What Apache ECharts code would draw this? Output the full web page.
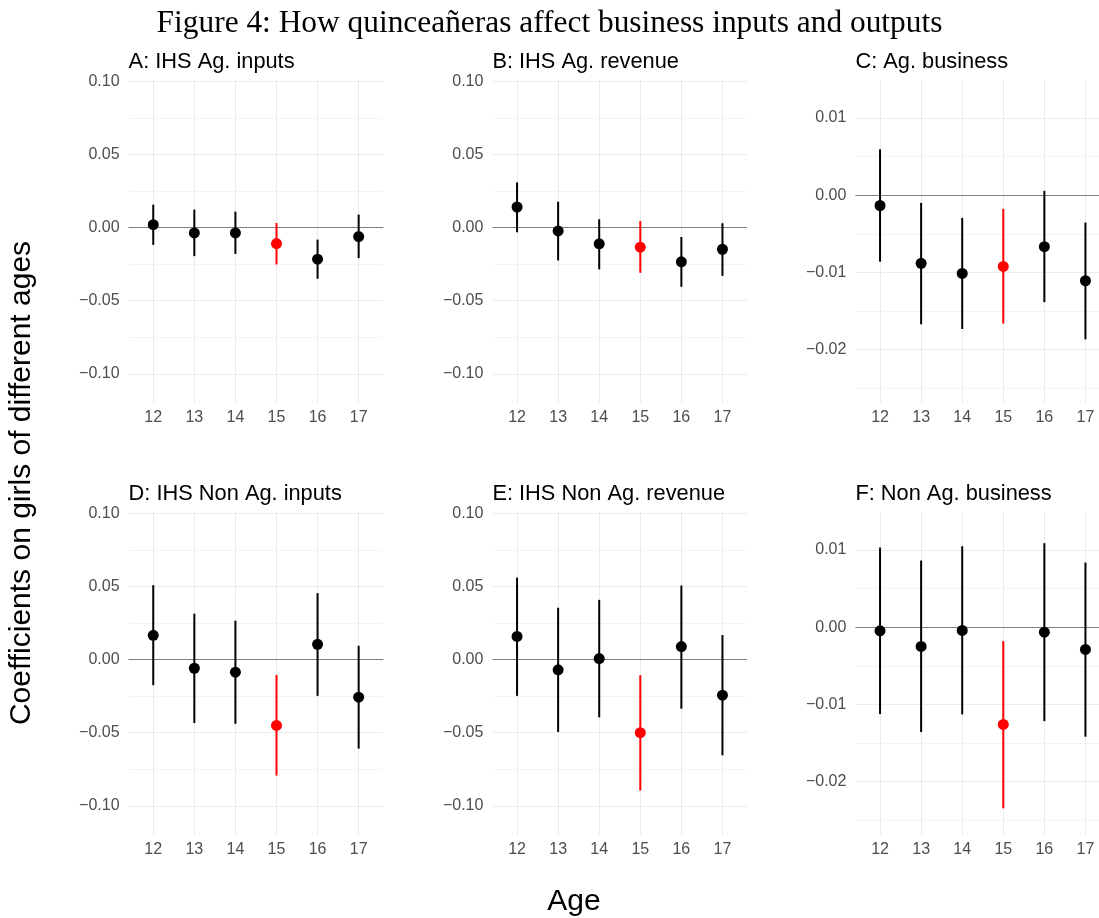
<!DOCTYPE html>
<html>
<head>
<meta charset="utf-8">
<script src="https://cdn.jsdelivr.net/npm/echarts@6/dist/echarts.min.js"></script>
<style>
html,body{margin:0;padding:0;background:#fff;}
#chart{width:1099px;height:918px;}
</style>
</head>
<body>
<div id="chart"></div>
<script>
// ---- Data ----
const ages = [12, 13, 14, 15, 16, 17];
const focusAge = 15;

const titles = [
  "A: IHS Ag. inputs", "B: IHS Ag. revenue", "C: Ag. business",
  "D: IHS Non Ag. inputs", "E: IHS Non Ag. revenue", "F: Non Ag. business"
];

const aEst = [0.0020, -0.0036, -0.0036, -0.0109, -0.0216, -0.0061];
const aLo  = [-0.0118, -0.0195, -0.0180, -0.0252, -0.0350, -0.0209];
const aHi  = [0.0157, 0.0123, 0.0109, 0.0032, -0.0082, 0.0089];

const bEst = [0.0141, -0.0023, -0.0111, -0.0134, -0.0234, -0.0148];
const bLo  = [-0.0032, -0.0225, -0.0286, -0.0309, -0.0405, -0.0330];
const bHi  = [0.0309, 0.0177, 0.0057, 0.0045, -0.0064, 0.0030];

const cEst = [-0.00134, -0.00883, -0.01013, -0.00922, -0.00667, -0.01108];
const cLo  = [-0.00861, -0.01671, -0.01732, -0.01662, -0.01385, -0.01866];
const cHi  = [0.00593, -0.00100, -0.00294, -0.00177, 0.00056, -0.00355];

const dEst = [0.0166, -0.0059, -0.0086, -0.0450, 0.0105, -0.0257];
const dLo  = [-0.0175, -0.0434, -0.0439, -0.0793, -0.0248, -0.0609];
const dHi  = [0.0509, 0.0314, 0.0266, -0.0105, 0.0455, 0.0095];

const eEst = [0.0159, -0.0070, 0.0007, -0.0500, 0.0089, -0.0243];
const eLo  = [-0.0248, -0.0495, -0.0395, -0.0895, -0.0336, -0.0655];
const eHi  = [0.0561, 0.0355, 0.0409, -0.0107, 0.0507, 0.0168];

const fEst = [-0.00047, -0.00250, -0.00043, -0.01259, -0.00065, -0.00289];
const fLo  = [-0.01125, -0.01358, -0.01129, -0.02345, -0.01216, -0.01418];
const fHi  = [0.01030, 0.00862, 0.01047, -0.00181, 0.01086, 0.00836];

// tick labels
const wideMajor = [-0.10, -0.05, 0.00, 0.05, 0.10];
const wideAll   = [-0.10, -0.075, -0.05, -0.025, 0.00, 0.025, 0.05, 0.075, 0.10];
const narrowMajor = [-0.02, -0.01, 0.00, 0.01];
const narrowAll   = [-0.025, -0.02, -0.015, -0.01, -0.005, 0.00, 0.005, 0.01];

const wideRange = [-0.12, 0.101];
const narrowRange = [-0.0269, 0.0149];
const xRangeFull = [11.4, 17.6];
const xRangeCut = [11.4, 17.33];   // right column is cut off at the page edge

const panels = [
  {est: aEst, lo: aLo, hi: aHi, major: wideMajor, all: wideAll, range: wideRange},
  {est: bEst, lo: bLo, hi: bHi, major: wideMajor, all: wideAll, range: wideRange},
  {est: cEst, lo: cLo, hi: cHi, major: narrowMajor, all: narrowAll, range: narrowRange},
  {est: dEst, lo: dLo, hi: dHi, major: wideMajor, all: wideAll, range: wideRange},
  {est: eEst, lo: eLo, hi: eHi, major: wideMajor, all: wideAll, range: wideRange},
  {est: fEst, lo: fLo, hi: fHi, major: narrowMajor, all: narrowAll, range: narrowRange}
];

// ---- Layout ----
const colLefts = [128.6, 492.4, 855.4];
const colWidths = [254.7, 254.7, 243.6];
const rowTops = [80, 512];
const pH = 323;
const tickColor = '#4d4d4d';
const fontSans = '"Liberation Sans", Arial, Helvetica, sans-serif';

const grids = [], xAxes = [], yAxes = [], series = [], titleComps = [];

panels.forEach((p, i) => {
  const col = i % 3, row = Math.floor(i / 3);
  const xr = col === 2 ? xRangeCut : xRangeFull;
  grids.push({left: colLefts[col], top: rowTops[row], width: colWidths[col], height: pH, containLabel: false});
  xAxes.push({
    type: 'value', gridIndex: i, min: xr[0], max: xr[1],
    axisLine: {show: false},
    axisTick: {show: false, customValues: ages},
    axisLabel: {customValues: ages, color: tickColor, fontSize: 16, fontFamily: fontSans, margin: 7,
                formatter: v => String(v)},
    splitLine: {show: true, lineStyle: {color: '#ebebeb', width: 1}}
  });
  const isMajor = p.all.map(v => p.major.some(m => Math.abs(m - v) < 1e-9));
  yAxes.push({
    type: 'value', gridIndex: i, min: p.range[0], max: p.range[1],
    axisLine: {show: false},
    axisTick: {show: false, customValues: p.all},
    axisLabel: {customValues: p.major, color: tickColor, fontSize: 16, fontFamily: fontSans, margin: 9,
                formatter: v => (v < -1e-12 ? '\u2212' : '') + Math.abs(v).toFixed(2)},
    splitLine: {show: true, lineStyle: {color: isMajor.map(m => m ? '#ebebeb' : '#f4f4f4'), width: 1}}
  });
  series.push({
    type: 'custom', xAxisIndex: i, yAxisIndex: i, z: 2,
    data: ages.map((a, k) => [a, p.lo[k], p.hi[k]]),
    encode: {x: 0, y: [1, 2]},
    renderItem: (params, api) => {
      const x = api.value(0);
      const p1 = api.coord([x, api.value(1)]);
      const p2 = api.coord([x, api.value(2)]);
      return {type: 'line', shape: {x1: p1[0], y1: p1[1], x2: p2[0], y2: p2[1]},
              style: {stroke: x === focusAge ? '#ff0000' : '#000000', lineWidth: 2}};
    },
    markLine: {
      silent: true, symbol: 'none', z: 1, label: {show: false},
      lineStyle: {color: '#7f7f7f', width: 1.2, type: 'solid'},
      emphasis: {disabled: true},
      data: [{yAxis: 0}]
    },
    silent: true
  });
  series.push({
    type: 'scatter', xAxisIndex: i, yAxisIndex: i, z: 3,
    symbol: 'circle', symbolSize: 11,
    itemStyle: {opacity: 1},
    data: ages.map((a, k) => ({value: [a, p.est[k]], itemStyle: {color: a === focusAge ? '#ff0000' : '#000000', opacity: 1}})),
    silent: true
  });
  titleComps.push({
    text: titles[i], left: colLefts[col], top: row === 0 ? 50.5 : 483, padding: 0,
    textStyle: {fontFamily: fontSans, fontSize: 21.8, fontWeight: 'normal', color: '#000'}
  });
});

titleComps.push({
  text: 'Figure 4: How quincea\u00f1eras affect business inputs and outputs',
  left: 'center', top: 8, padding: 0,
  textStyle: {fontFamily: '"Liberation Serif", "Times New Roman", serif', fontSize: 31.4, fontWeight: 'normal', color: '#000'}
});
titleComps.push({
  text: 'Age', left: 574, top: 887, padding: 0,
  textAlign: 'center',
  textStyle: {fontFamily: fontSans, fontSize: 30, fontWeight: 'normal', color: '#000'}
});

const chart = echarts.init(document.getElementById('chart'), null, {renderer: 'canvas'});
chart.setOption({
  animation: false,
  backgroundColor: '#ffffff',
  title: titleComps,
  grid: grids,
  xAxis: xAxes,
  yAxis: yAxes,
  series: series,
  graphic: [{
    type: 'text', x: 22, y: 483, rotation: Math.PI / 2,
    style: {text: 'Coefficients on girls of different ages', fontFamily: fontSans, fontSize: 30,
            fill: '#000', align: 'center', verticalAlign: 'middle'}
  }]
});
</script>
</body>
</html>
